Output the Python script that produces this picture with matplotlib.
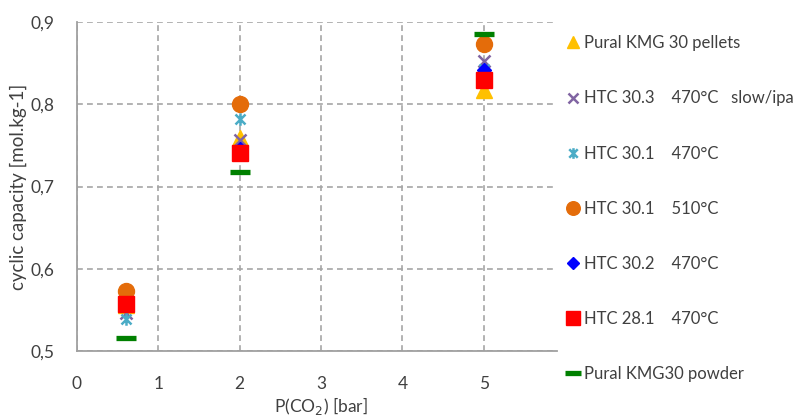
import matplotlib
matplotlib.use("Agg")
import matplotlib.pyplot as plt
from matplotlib.path import Path
from matplotlib.ticker import FuncFormatter

plt.rcParams['font.family'] = ['Lato', 'DejaVu Sans']

# Data
pressure = [0.6, 2, 5]
series_names = [
    "Pural KMG 30 pellets",
    "HTC 30.3    470°C   slow/ipa",
    "HTC 30.1    470°C",
    "HTC 30.1    510°C",
    "HTC 30.2    470°C",
    "HTC 28.1    470°C",
    "Pural KMG30 powder",
]
pural_pellets = [0.556, 0.759, 0.817]
htc303_470 = [0.546, 0.757, 0.852]
htc301_470 = [0.539, 0.782, 0.843]
htc301_510 = [0.573, 0.800, 0.873]
htc302_470 = [0.556, 0.745, 0.842]
htc281_470 = [0.557, 0.741, 0.830]
pural_powder = [0.516, 0.718, 0.885]

x_ticks = [0, 1, 2, 3, 4, 5]
y_ticks = [0.5, 0.6, 0.7, 0.8, 0.9]

star = Path([(-1, -1), (1, 1), (-1, 1), (1, -1), (0, -1.25), (0, 1.25)],
             [Path.MOVETO, Path.LINETO, Path.MOVETO, Path.LINETO, Path.MOVETO, Path.LINETO])

styles = [
    dict(marker='^', color='#FFC000', ms=11, mec='#FFC000'),
    dict(marker='x', color='#8064A2', ms=9, mew=1.8, mec='#8064A2'),
    dict(marker=star, color='#4BACC6', ms=9, mew=1.8, mec='#4BACC6', mfc='none'),
    dict(marker='o', color='#E46C0A', ms=11.5, mec='#E46C0A'),
    dict(marker='D', color='#0000FF', ms=7, mec='#0000FF'),
    dict(marker='s', color='#FF0000', ms=11.5, mec='#FF0000'),
    dict(marker='_', color='#008000', ms=14, mew=3.8, mec='#008000'),
]
values = [pural_pellets, htc303_470, htc301_470, htc301_510, htc302_470, htc281_470, pural_powder]

fig = plt.figure(figsize=(8.02, 4.17), dpi=100)
ax = fig.add_axes([77/802, 66/417, (557-77)/802, (351-22)/417])

for name, vals, st in zip(series_names, values, styles):
    ax.plot(pressure, vals, linestyle='none', label=name, **st)

ax.set_xlim(0, 5.9)
ax.set_ylim(0.5, 0.9)
ax.set_xticks(x_ticks)
ax.set_yticks(y_ticks)
ax.yaxis.set_major_formatter(FuncFormatter(lambda v, p: f"{v:.1f}".replace('.', ',')))
ax.tick_params(axis='x', length=0, labelsize=12.5, colors='#404040', pad=18)
ax.tick_params(axis='y', length=0, labelsize=12.5, colors='#404040', pad=16)
ax.grid(True, linestyle=(0, (3.5, 2.5)), color='#A6A6A6', linewidth=1.2)
ax.set_axisbelow(True)
for s in ['top', 'right']:
    ax.spines[s].set_visible(False)
for s in ['left', 'bottom']:
    ax.spines[s].set_color('#A0A0A0')
    ax.spines[s].set_linewidth(1.3)

fig.text(321 / 802, (417 - 406) / 417, "P(CO$_2$) [bar]", fontsize=12.5,
         color='#404040', ha='center', va='center')
ax.set_ylabel("cyclic capacity [mol.kg-1]", fontsize=13.5, color='#404040', labelpad=3)

leg = ax.legend(loc='upper left', bbox_to_anchor=(0.995, 0.995), frameon=False,
                fontsize=12, labelspacing=2.35, handlelength=0.8, handletextpad=0.25,
                borderaxespad=0.3, labelcolor='#404040', markerscale=0.85)

fig.savefig("out.png", dpi=100)
